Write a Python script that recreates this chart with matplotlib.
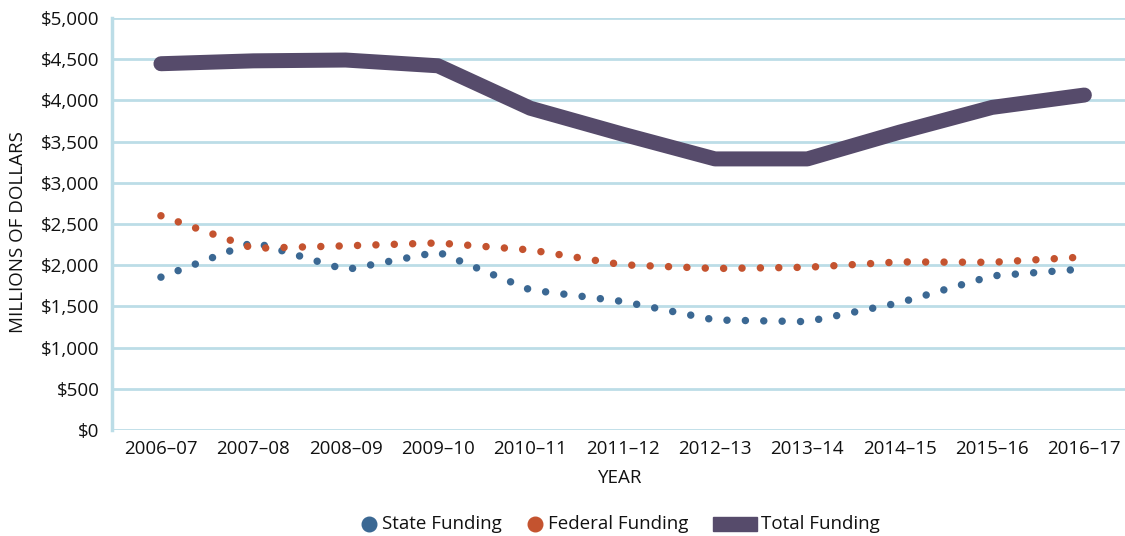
import numpy as np
import matplotlib.pyplot as plt
from matplotlib.patches import Rectangle

plt.rcParams['font.family'] = ['Open Sans', 'DejaVu Sans']

# data (millions of dollars)
years = ['2006–07', '2007–08', '2008–09', '2009–10', '2010–11', '2011–12',
         '2012–13', '2013–14', '2014–15', '2015–16', '2016–17']
state = [1855, 2280, 1945, 2160, 1700, 1560, 1335, 1315, 1545, 1870, 1955]
federal = [2600, 2205, 2235, 2270, 2185, 2005, 1960, 1975, 2040, 2035, 2100]
total = [4445, 4480, 4490, 4420, 3905, 3590, 3290, 3290, 3615, 3915, 4065]
yticks = [0, 500, 1000, 1500, 2000, 2500, 3000, 3500, 4000, 4500, 5000]
series_names = ['State Funding', 'Federal Funding', 'Total Funding']

blue = '#3b6893'
orange = '#c4532f'
purple = '#564b6b'
grid = '#bcdde7'
txt = '#111111'
fs = 13.5

my_dpi = 100
fig = plt.figure(figsize=(1125/my_dpi, 536/my_dpi), dpi=my_dpi)
ax = fig.add_axes([112/1125, 106/536, 1013/1125, 412/536])

x = np.arange(len(years))

# thick total line
ax.plot(x, total, color=purple, lw=10.8, solid_capstyle='round',
        solid_joinstyle='round', zorder=3)

# dotted lines
dots = (0, (0.001, 2.45))
ax.plot(x, state, color=blue, lw=5.4, linestyle=dots, dash_capstyle='round', zorder=4)
ax.plot(x, federal, color=orange, lw=5.4, linestyle=dots, dash_capstyle='round', zorder=4)

ax.set_xlim(-0.53, 10.44)
ax.set_ylim(0, 5000)
ax.set_yticks(yticks)
ax.set_yticklabels(['${:,}'.format(v) for v in yticks])
ax.set_xticks(x)
ax.set_xticklabels(years)
ax.tick_params(length=0, labelsize=fs, colors=txt)
ax.tick_params(axis='y', pad=9)
ax.tick_params(axis='x', pad=7)

ax.grid(axis='y', color=grid, lw=2)
ax.set_axisbelow(True)
for s in ['top', 'right', 'bottom']:
    ax.spines[s].set_visible(False)
ax.spines['left'].set_color(grid)
ax.spines['left'].set_linewidth(2.5)

fig.text(18/1125, 1 - 232/536, 'MILLIONS OF DOLLARS', rotation=90,
         ha='center', va='center', fontsize=fs, color=txt)
fig.text(620/1125, 1 - 478/536, 'YEAR', ha='center', va='center',
         fontsize=fs, color=txt)

# legend drawn by hand (pixel coordinates)
lg = fig.add_axes([0, 0, 1, 1], zorder=-1)
lg.set_xlim(0, 1125)
lg.set_ylim(536, 0)
lg.axis('off')
lg.plot([369], [524], 'o', color=blue, markersize=10.5)
lg.plot([535], [524], 'o', color=orange, markersize=10.5)
lg.add_patch(Rectangle((713, 517), 44, 14, color=purple))
lg.text(382, 524, series_names[0], va='center', ha='left', fontsize=fs, color=txt)
lg.text(548, 524, series_names[1], va='center', ha='left', fontsize=fs, color=txt)
lg.text(761, 524, series_names[2], va='center', ha='left', fontsize=fs, color=txt)

plt.savefig('out.png', dpi=my_dpi)
